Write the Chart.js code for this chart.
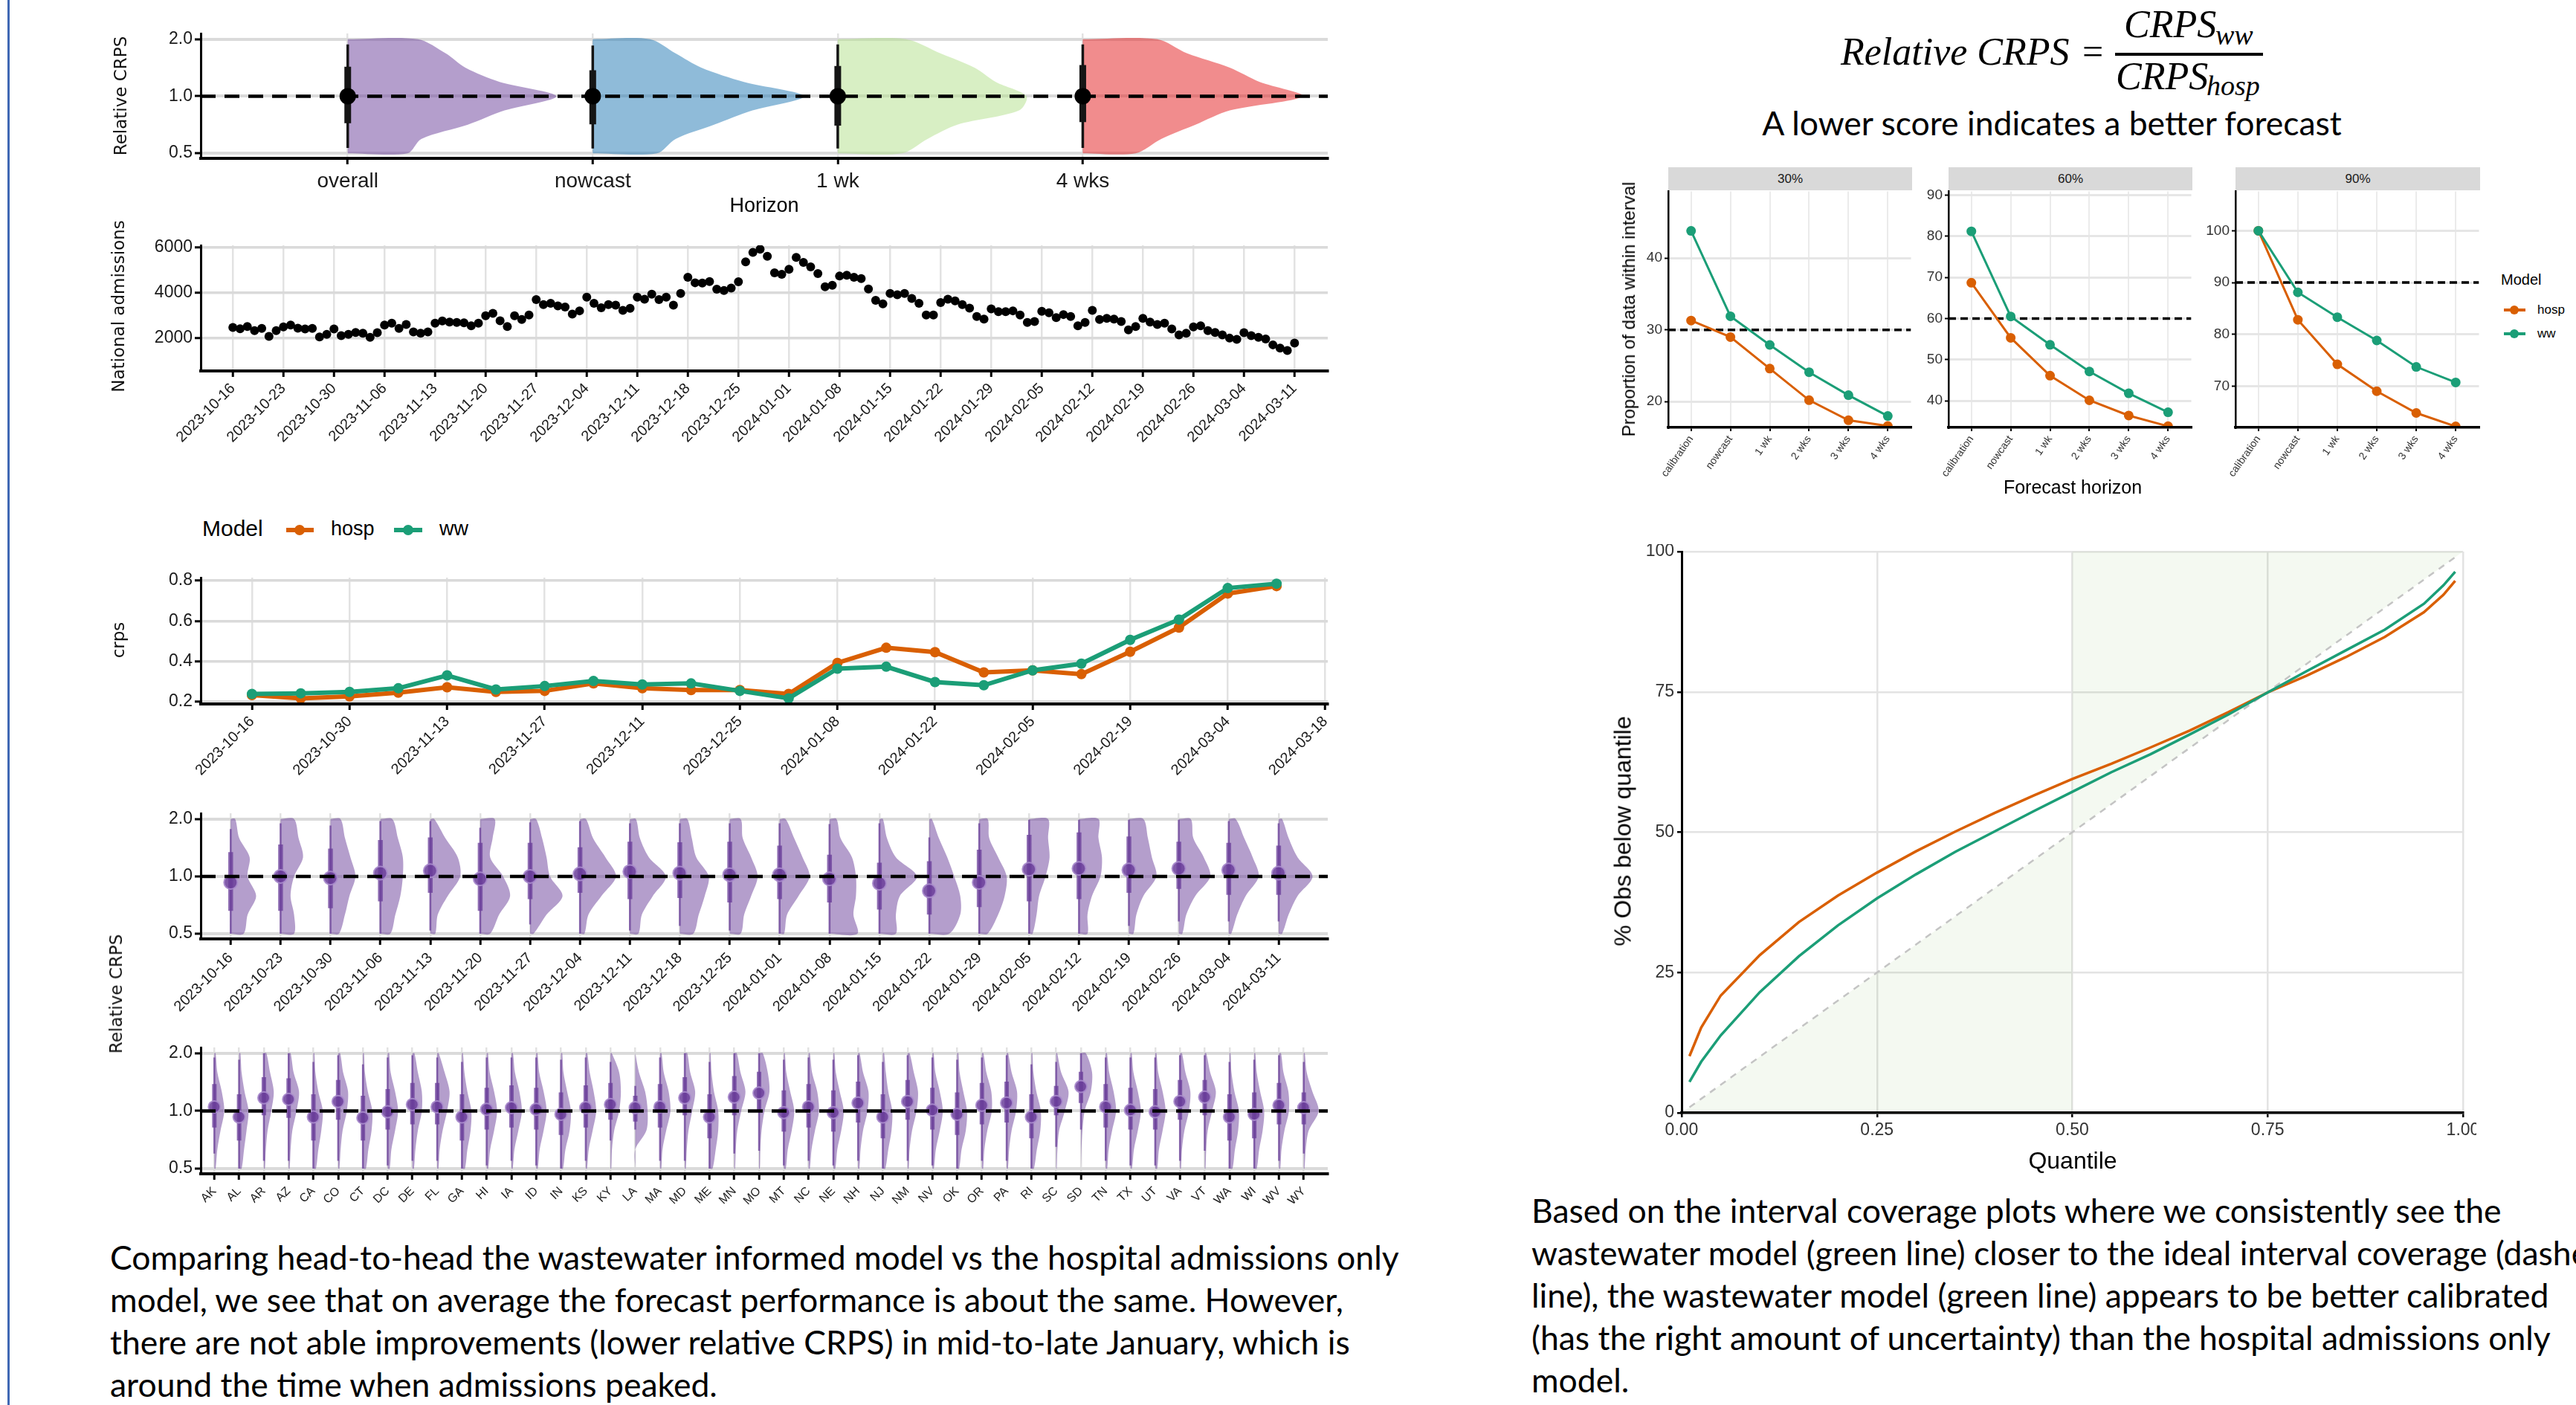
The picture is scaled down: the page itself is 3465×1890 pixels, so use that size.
<!DOCTYPE html>
<html><head><meta charset="utf-8">
<script src="https://cdn.jsdelivr.net/npm/chart.js@4.4.1/dist/chart.umd.min.js"></script>
<style>
html,body{margin:0;padding:0;background:#fff;}
body{width:3465px;height:1890px;position:relative;overflow:hidden;font-family:'Liberation Sans',Arial,sans-serif;}
canvas{position:absolute;}
.t{position:absolute;white-space:nowrap;color:#000;}
.rot{transform:translate(-50%,-50%) rotate(-90deg);}
.ctr{transform:translate(-50%,-50%);}
.ytl{font-family:'DejaVu Sans',sans-serif;font-size:23px;color:#111;}
.para{position:absolute;white-space:nowrap;font-family:Lato,'Open Sans',sans-serif;font-size:44.5px;line-height:57px;color:#000;}
.ser{position:absolute;white-space:nowrap;font-family:'Liberation Serif','DejaVu Serif',serif;font-style:italic;line-height:1;}
.strip{position:absolute;background:#d9d9d9;color:#1a1a1a;font-size:17px;text-align:center;line-height:31px;height:31px;}
.kl{position:absolute;height:6px;}
.kd{position:absolute;border-radius:50%;}
</style></head><body>
<div style="position:absolute;left:10px;top:0;width:3px;height:1890px;background:#4068b4;"></div>

<canvas id="cA"></canvas><canvas id="cB"></canvas><canvas id="cC"></canvas><canvas id="cD"></canvas><canvas id="cE"></canvas>
<canvas id="cF1"></canvas><canvas id="cF2"></canvas><canvas id="cF3"></canvas><canvas id="cG"></canvas>

<div class="t rot ytl" style="left:162px;top:129px;">Relative CRPS</div>
<div class="t ctr" style="left:1028px;top:276px;font-size:27px;">Horizon</div>
<div class="t rot ytl" style="left:159px;top:412px;">National admissions</div>
<div class="t rot ytl" style="left:159px;top:861px;">crps</div>
<div class="t rot ytl" style="left:156px;top:1337px;">Relative CRPS</div>

<div class="t" style="left:272px;top:694px;font-size:30px;">Model</div>
<div class="kl" style="left:385px;top:710px;width:37px;background:#D95F02;"></div>
<div class="kd" style="left:396px;top:706px;width:14px;height:14px;background:#D95F02;"></div>
<div class="t" style="left:445px;top:696px;font-size:27px;">hosp</div>
<div class="kl" style="left:530px;top:710px;width:38px;background:#1B9E77;"></div>
<div class="kd" style="left:542px;top:706px;width:14px;height:14px;background:#1B9E77;"></div>
<div class="t" style="left:591px;top:696px;font-size:27px;">ww</div>

<div class="para" style="left:148px;top:1662px;">Comparing head-to-head the wastewater informed model vs the hospital admissions only<br>model, we see that on average the forecast performance is about the same. However,<br>there are not able improvements (lower relative CRPS) in mid-to-late January, which is<br>around the time when admissions peaked.</div>
<div class="para" style="left:2060px;top:1599px;">Based on the interval coverage plots where we consistently see the<br>wastewater model (green line) closer to the ideal interval coverage (dashed<br>line), the wastewater model (green line) appears to be better calibrated<br>(has the right amount of uncertainty) than the hospital admissions only<br>model.</div>

<div class="ser" style="left:2476px;top:44px;font-size:52px;">Relative CRPS</div>
<div class="ser" style="left:2801px;top:44px;font-size:50px;font-style:normal;">=</div>
<div style="position:absolute;left:2845px;top:71px;width:199px;height:4px;background:#000;"></div>
<div class="ser" style="left:2857px;top:7px;font-size:52px;">CRPS</div>
<div class="ser" style="left:2980px;top:28px;font-size:38px;">ww</div>
<div class="ser" style="left:2846px;top:77px;font-size:52px;">CRPS</div>
<div class="ser" style="left:2968px;top:96px;font-size:38px;">hosp</div>
<div class="para ctr" style="left:2760px;top:164px;">A lower score indicates a better forecast</div>

<div class="strip" style="left:2244px;top:225px;width:328px;">30%</div>
<div class="strip" style="left:2621px;top:225px;width:328px;">60%</div>
<div class="strip" style="left:3007px;top:225px;width:329px;">90%</div>
<div class="t rot" style="left:2191px;top:416px;font-size:24px;">Proportion of data within interval</div>
<div class="t ctr" style="left:2788px;top:655px;font-size:25px;">Forecast horizon</div>
<div class="t" style="left:3364px;top:365px;font-size:20px;">Model</div>
<div class="kl" style="left:3368px;top:415px;width:29px;height:4px;background:#D95F02;"></div>
<div class="kd" style="left:3376px;top:411px;width:12px;height:12px;background:#D95F02;"></div>
<div class="t" style="left:3413px;top:407px;font-size:17px;">hosp</div>
<div class="kl" style="left:3368px;top:447px;width:29px;height:4px;background:#1B9E77;"></div>
<div class="kd" style="left:3376px;top:443px;width:12px;height:12px;background:#1B9E77;"></div>
<div class="t" style="left:3413px;top:439px;font-size:17px;">ww</div>

<div class="t rot" style="left:2183px;top:1118px;font-size:32px;">% Obs below quantile</div>
<div class="t ctr" style="left:2788px;top:1561px;font-size:32px;">Quantile</div>

<script>
// ---------- data ----------
const relTicks = [0.5, 1, 2];
const levels9 = [0.5, 0.595, 0.707, 0.841, 1.0, 1.189, 1.414, 1.682, 2.0];
const levels7 = [0.5, 0.63, 0.79, 1.0, 1.26, 1.59, 2.0];

const horizons = ['overall', 'nowcast', '1 wk', '4 wks'];
const horizonColors = ['rgba(106,61,154,0.5)', 'rgba(31,120,180,0.5)', 'rgba(178,223,138,0.5)', 'rgba(227,26,28,0.5)'];
const horizonMedian = [1.0, 1.0, 1.0, 1.0];
const horizonLo66 = [0.72, 0.71, 0.70, 0.73];
const horizonHi66 = [1.43, 1.37, 1.445, 1.46];
const horizonLo95 = [0.533, 0.53, 0.53, 0.533];
const horizonHi95 = [1.875, 1.85, 1.875, 1.875];
const horizonSlab = [
  [0.244, 0.30, 0.49, 0.64, 0.851, 0.62, 0.48, 0.40, 0.286],
  [0.262, 0.338, 0.495, 0.652, 0.862, 0.617, 0.443, 0.338, 0.234],
  [0.262, 0.366, 0.488, 0.74, 0.77, 0.645, 0.558, 0.419, 0.279],
  [0.216, 0.32, 0.46, 0.6, 0.897, 0.722, 0.6, 0.426, 0.304]
];

const weeks = ['2023-10-16','2023-10-23','2023-10-30','2023-11-06','2023-11-13','2023-11-20','2023-11-27','2023-12-04','2023-12-11','2023-12-18','2023-12-25','2024-01-01','2024-01-08','2024-01-15','2024-01-22','2024-01-29','2024-02-05','2024-02-12','2024-02-19','2024-02-26','2024-03-04','2024-03-11'];

// national daily admissions, 2023-10-16 .. 2024-03-11
const admissions = [2469,2414,2512,2327,2425,2076,2327,2490,2578,2436,2403,2425,2055,2164,2403,2109,2164,2251,2218,2033,2240,
  2578,2654,2425,2600,2273,2218,2273,2654,2752,2709,2687,2676,2545,2654,2981,3090,2763,2512,2981,2818,3014,
  3690,3472,3526,3417,3363,3057,3199,3799,3526,3330,3472,3450,3221,3308,3799,3711,3929,3690,3799,3450,3962,
  4671,4431,4420,4485,4147,4093,4202,4474,5346,5761,5902,5597,4867,4801,5019,5543,5325,5128,4834,4256,4322,
  4725,4758,4671,4616,4158,3657,3504,3962,3908,3962,3744,3526,3014,3014,3559,3711,3635,3472,3319,2948,2839,
  3286,3166,3166,3199,3014,2687,2730,3177,3112,2905,3036,2948,2545,2687,3221,2818,2872,2839,2730,2360,2512,
  2872,2709,2600,2654,2403,2142,2218,2490,2545,2327,2251,2142,2000,1946,2240,2109,2033,1967,1706,1564,1455,1782];
const admTicks = [2000, 4000, 6000];

const crpsTickLabels = ['2023-10-16','2023-10-30','2023-11-13','2023-11-27','2023-12-11','2023-12-25','2024-01-08','2024-01-22','2024-02-05','2024-02-19','2024-03-04','2024-03-18'];
const crpsHosp = [0.232,0.216,0.226,0.244,0.271,0.248,0.253,0.290,0.266,0.257,0.257,0.238,0.392,0.467,0.445,0.345,0.355,0.336,0.447,0.567,0.736,0.773];
const crpsWW   = [0.238,0.241,0.248,0.266,0.330,0.260,0.277,0.302,0.285,0.290,0.253,0.216,0.363,0.373,0.297,0.281,0.355,0.388,0.506,0.607,0.763,0.785];
const crpsTicks = [0.2, 0.4, 0.6, 0.8];

const weekMedian = [0.93,1.0,0.98,1.04,1.07,0.97,1.0,1.03,1.06,1.04,1.02,1.02,0.97,0.92,0.84,0.93,1.09,1.1,1.08,1.1,1.08,1.04];
const weekLo66 = [0.66,0.66,0.68,0.74,0.82,0.66,0.76,0.82,0.76,0.77,0.73,0.76,0.73,0.67,0.63,0.69,0.74,0.76,0.82,0.86,0.8,0.8];
const weekHi66 = [1.34,1.47,1.4,1.55,1.6,1.5,1.5,1.42,1.52,1.51,1.52,1.45,1.3,1.18,1.2,1.38,1.65,1.7,1.62,1.52,1.5,1.45];
const weekLo95 = [0.5,0.5,0.5,0.5,0.52,0.5,0.56,0.5,0.52,0.55,0.52,0.5,0.5,0.5,0.5,0.5,0.5,0.5,0.55,0.58,0.58,0.58];
const weekHi95 = [1.77,1.9,1.85,1.95,1.95,1.8,1.92,1.95,1.9,1.9,1.9,1.9,1.88,1.9,1.6,1.9,1.98,1.98,1.98,1.98,1.95,1.9];
const weekSlab = [
  [0.26,0.34,0.51,0.34,0.38,0.17,0.09],[0.27,0.27,0.2,0.27,0.45,0.36,0.27],[0.17,0.29,0.38,0.5,0.4,0.29,0.2],
  [0.2,0.3,0.4,0.45,0.45,0.35,0.24],[0.1,0.15,0.35,0.6,0.55,0.3,0.08],[0.2,0.38,0.6,0.46,0.2,0.25,0.29],
  [0.07,0.33,0.65,0.4,0.33,0.24,0.12],[0.09,0.17,0.43,0.72,0.51,0.26,0.12],[0.17,0.24,0.46,0.72,0.38,0.2,0.12],
  [0.27,0.38,0.5,0.58,0.33,0.24,0.15],[0.22,0.29,0.43,0.56,0.43,0.26,0.22],[0.09,0.15,0.38,0.6,0.46,0.29,0.12],
  [0.56,0.48,0.53,0.53,0.45,0.22,0.14],[0.33,0.33,0.41,0.75,0.33,0.15,0.07],[0.4,0.62,0.62,0.5,0.36,0.19,0.05],
  [0.17,0.38,0.51,0.55,0.38,0.2,0.17],[0.07,0.15,0.2,0.33,0.41,0.38,0.38],[0.17,0.17,0.26,0.43,0.46,0.39,0.39],
  [0.09,0.15,0.29,0.55,0.46,0.38,0.29],[0.07,0.15,0.33,0.63,0.5,0.29,0.24],[0.05,0.17,0.34,0.6,0.48,0.31,0.14],
  [0.07,0.2,0.38,0.68,0.38,0.2,0.07]
];

const states = ['AK','AL','AR','AZ','CA','CO','CT','DC','DE','FL','GA','HI','IA','ID','IN','KS','KY','LA','MA','MD','ME','MN','MO','MT','NC','NE','NH','NJ','NM','NV','OK','OR','PA','RI','SC','SD','TN','TX','UT','VA','VT','WA','WI','WV','WY'];
const stateMedian = [1.05,0.93,1.17,1.15,0.93,1.12,0.92,0.99,1.08,1.05,0.93,1.02,1.04,1.02,0.96,1.04,1.08,1.04,1.05,1.17,0.93,1.18,1.24,0.98,1.05,0.98,1.10,0.93,1.12,1.01,0.96,1.07,1.10,0.93,1.12,1.34,1.05,1.01,0.99,1.12,1.18,0.93,0.96,1.07,1.04];
const stateLo66 = [0.82,0.7,0.95,0.92,0.7,0.9,0.7,0.8,0.85,0.85,0.7,0.8,0.82,0.8,0.75,0.82,0.9,0.88,0.82,0.95,0.72,0.95,1.0,0.78,0.82,0.78,0.87,0.72,0.9,0.8,0.75,0.85,0.87,0.72,0.95,1.1,0.82,0.8,0.8,0.9,0.95,0.7,0.72,0.85,0.85];
const stateHi66 = [1.38,1.22,1.5,1.48,1.22,1.45,1.2,1.3,1.4,1.4,1.22,1.32,1.36,1.32,1.25,1.36,1.4,1.2,1.38,1.5,1.22,1.52,1.6,1.28,1.38,1.28,1.42,1.22,1.45,1.32,1.25,1.4,1.42,1.22,1.35,1.6,1.38,1.32,1.3,1.45,1.45,1.22,1.25,1.4,1.25];
const stateLo95 = [0.6,0.5,0.55,0.55,0.5,0.55,0.5,0.52,0.55,0.55,0.5,0.52,0.55,0.52,0.5,0.55,0.7,0.8,0.55,0.55,0.5,0.6,0.62,0.52,0.55,0.52,0.55,0.5,0.55,0.52,0.5,0.55,0.55,0.5,0.65,0.8,0.55,0.52,0.52,0.55,0.62,0.5,0.5,0.55,0.6];
const stateHi95 = [1.9,1.85,2.0,2.0,1.8,1.95,1.75,1.9,1.95,1.9,1.8,1.9,1.9,1.9,1.85,1.9,1.8,1.35,1.9,2.0,1.8,2.0,2.0,1.85,1.9,1.85,1.95,1.8,1.95,1.9,1.85,1.9,1.95,1.75,1.8,2.0,1.9,1.9,1.9,1.95,1.95,1.8,1.85,1.95,1.8];
const stateSlab = [
  [0.05,0.12,0.25,0.4,0.3,0.12,0.05],[0.1,0.2,0.3,0.38,0.22,0.1,0.05],[0.04,0.08,0.15,0.3,0.4,0.25,0.1],
  [0.04,0.08,0.15,0.32,0.42,0.2,0.08],[0.1,0.2,0.32,0.38,0.2,0.08,0.04],[0.05,0.1,0.18,0.35,0.4,0.2,0.08],
  [0.12,0.22,0.35,0.38,0.2,0.08,0.04],[0.08,0.15,0.3,0.42,0.3,0.12,0.06],[0.06,0.12,0.22,0.38,0.38,0.22,0.08],
  [0.05,0.1,0.22,0.4,0.5,0.3,0.06],[0.12,0.22,0.35,0.38,0.22,0.1,0.04],[0.06,0.14,0.3,0.42,0.3,0.12,0.05],
  [0.05,0.12,0.28,0.42,0.32,0.14,0.06],[0.06,0.14,0.3,0.42,0.3,0.12,0.05],[0.08,0.18,0.35,0.4,0.25,0.1,0.05],
  [0.05,0.12,0.28,0.42,0.32,0.16,0.06],[0.03,0.06,0.15,0.35,0.42,0.35,0.05],[0,0,0.45,0.5,0.4,0.15,0],
  [0.05,0.1,0.25,0.42,0.35,0.15,0.06],[0.04,0.08,0.15,0.3,0.42,0.22,0.1],[0.12,0.25,0.35,0.35,0.18,0.08,0.04],
  [0.03,0.06,0.12,0.28,0.45,0.25,0.1],[0.03,0.05,0.1,0.22,0.42,0.35,0.15],[0.08,0.16,0.32,0.42,0.26,0.1,0.04],
  [0.05,0.12,0.26,0.42,0.35,0.14,0.05],[0.08,0.16,0.32,0.42,0.26,0.1,0.04],[0.05,0.1,0.2,0.38,0.42,0.2,0.06],
  [0.1,0.22,0.35,0.38,0.22,0.12,0.05],[0.04,0.08,0.18,0.36,0.42,0.25,0.08],[0.06,0.14,0.3,0.42,0.3,0.12,0.05],
  [0.08,0.18,0.35,0.4,0.25,0.1,0.05],[0.05,0.1,0.22,0.4,0.38,0.18,0.06],[0.05,0.1,0.2,0.38,0.42,0.2,0.06],
  [0.1,0.22,0.36,0.38,0.2,0.08,0.04],[0.02,0.05,0.12,0.35,0.5,0.2,0.04],[0,0.02,0.06,0.15,0.4,0.45,0.2],
  [0.06,0.12,0.26,0.42,0.32,0.14,0.05],[0.06,0.14,0.3,0.42,0.3,0.12,0.05],[0.08,0.15,0.3,0.42,0.3,0.12,0.05],
  [0.04,0.08,0.18,0.36,0.42,0.22,0.08],[0.03,0.06,0.12,0.3,0.45,0.22,0.06],[0.12,0.22,0.35,0.38,0.2,0.08,0.04],
  [0.1,0.2,0.34,0.4,0.24,0.1,0.04],[0.05,0.1,0.22,0.4,0.38,0.18,0.08],[0.03,0.08,0.2,0.6,0.35,0.12,0.04]
];

const covHorizons = ['calibration', 'nowcast', '1 wk', '2 wks', '3 wks', '4 wks'];
const cov30Hosp = [31.3, 29.0, 24.6, 20.2, 17.4, 16.6];
const cov30WW   = [43.8, 31.9, 27.9, 24.1, 20.9, 18.0];
const cov60Hosp = [68.7, 55.3, 46.1, 40.1, 36.4, 33.8];
const cov60WW   = [81.2, 60.5, 53.6, 47.1, 41.8, 37.2];
const cov90Hosp = [100, 82.8, 74.2, 69.0, 64.8, 62.2];
const cov90WW   = [100, 88.1, 83.3, 78.8, 73.7, 70.7];

const quantiles = [0.01,0.025,0.05,0.1,0.15,0.2,0.25,0.3,0.35,0.4,0.45,0.5,0.55,0.6,0.65,0.7,0.75,0.8,0.85,0.9,0.95,0.975,0.99];
const qHosp = [10.1,15.2,20.9,28.1,34.0,38.7,42.8,46.6,50.1,53.4,56.5,59.5,62.2,65.1,68.1,71.4,74.9,77.9,81.2,84.8,89.2,92.3,94.8];
const qWW   = [5.5,9.1,13.8,21.5,27.9,33.4,38.2,42.5,46.5,50.1,53.7,57.2,60.7,63.9,67.4,71.0,74.9,78.7,82.4,86.1,90.7,94.0,96.4];
const shadeX = [0, 0.5, 0.5, 0.5, 1];
const shadeY = [0, 0, 50, 100, 100];

const HOSP = '#D95F02', WW = '#1B9E77';

// ---------- helpers ----------
Chart.defaults.font.family = "'Liberation Sans', Arial, sans-serif";
Chart.defaults.color = '#1a1a1a';

function mk(id, rect, m, datasets, scales) {
  const [l, t, r, b] = rect, [ml, mt, mr, mb] = m;
  const c = document.getElementById(id);
  const w = r - l + ml + mr, h = b - t + mt + mb;
  c.width = w; c.height = h;
  Object.assign(c.style, {left: (l - ml) + 'px', top: (t - mt) + 'px', width: w + 'px', height: h + 'px'});
  scales.x.afterFit = s => { s.height = mb; s.paddingLeft = 0; s.paddingRight = 0; };
  scales.y.afterFit = s => { s.width = ml; s.paddingTop = 0; s.paddingBottom = 0; };
  return new Chart(c, {
    type: 'line',
    data: {datasets},
    options: {
      responsive: false, animation: false, devicePixelRatio: 1,
      layout: {padding: {left: 0, top: mt, right: mr, bottom: 0}},
      plugins: {legend: {display: false}, tooltip: {enabled: false}},
      scales
    }
  });
}

function halfEyes(n, slabs, levels, med, lo66, hi66, lo95, hi95, cols, o) {
  const ds = [];
  for (let i = 0; i < n; i++) {
    const c = i + 1;
    const pts = [{x: c, y: levels[0]}];
    levels.forEach((v, k) => pts.push({x: c + slabs[i][k], y: v}));
    pts.push({x: c, y: levels[levels.length - 1]});
    ds.push({data: pts, fill: 'shape', backgroundColor: Array.isArray(cols) ? cols[i] : cols,
      borderColor: 'rgba(0,0,0,0)', borderWidth: 0, pointRadius: 0, tension: 0.3, order: 5});
  }
  const thin = [], thick = [], dots = [];
  for (let i = 0; i < n; i++) {
    thin.push({x: i + 1, y: lo95[i]}, {x: i + 1, y: hi95[i]}, {x: i + 1, y: null});
    thick.push({x: i + 1, y: lo66[i]}, {x: i + 1, y: hi66[i]}, {x: i + 1, y: null});
    dots.push({x: i + 1, y: med[i]});
  }
  ds.push({data: thin, borderColor: o.ic, borderWidth: o.thin, pointRadius: 0, spanGaps: false, order: 4});
  ds.push({data: thick, borderColor: o.ic, borderWidth: o.thick, pointRadius: 0, spanGaps: false, order: 3});
  ds.push({data: dots, showLine: false, pointRadius: o.r, pointBackgroundColor: o.dc,
    pointBorderColor: o.db, pointBorderWidth: o.dbw, order: 2});
  ds.push({data: [{x: o.xmin, y: 1}, {x: o.xmax, y: 1}], borderColor: '#000', borderWidth: 4.5,
    borderDash: [20, 12], pointRadius: 0, order: 1});
  return ds;
}

function gridX(lw, col) { return {color: col || '#e2e2e2', lineWidth: lw, tickColor: '#000', tickLength: 8, tickWidth: 3}; }
function gridY(lw, col) { return {color: col || '#dadada', lineWidth: lw, tickColor: '#000', tickLength: 8, tickWidth: 3}; }
const borderB = {display: true, color: '#000', width: 4, z: 1};
const borderL = {display: true, color: '#000', width: 3, z: 1};

function relY() {
  return {type: 'logarithmic', min: 0.47, max: 2.143,
    afterBuildTicks: s => { s.ticks = relTicks.map(v => ({value: v})); },
    ticks: {callback: v => Number(v).toFixed(1), font: {size: 23}, padding: 3},
    grid: gridY(4), border: borderL};
}
function catX(min, max, labels, size, rot) {
  return {type: 'linear', min, max,
    afterBuildTicks: s => { s.ticks = labels.map((l, i) => ({value: i + 1})); },
    ticks: {callback: (v, i) => labels[i], font: {size}, padding: 6, autoSkip: false,
      minRotation: rot, maxRotation: rot},
    grid: gridX(2.5), border: borderB};
}

// ---------- A: horizon half-eyes ----------
mk('cA', [270, 44, 1786, 213], [150, 10, 20, 60],
  halfEyes(4, horizonSlab, levels9, horizonMedian, horizonLo66, horizonHi66, horizonLo95, horizonHi95, horizonColors,
    {ic: '#151515', thin: 3.5, thick: 9, r: 11, dc: '#000', db: '#000', dbw: 0, xmin: 0.4, xmax: 5.0}),
  {x: catX(0.4, 5.0, horizons, 28, 0), y: relY()});

// ---------- B: national admissions ----------
mk('cB', [270, 330, 1786, 499], [150, 10, 20, 115],
  [{data: admissions.map((v, i) => ({x: i, y: v})), showLine: false, pointRadius: 6,
    pointBackgroundColor: '#000', pointBorderWidth: 0}],
  {x: {type: 'linear', min: -4.45, max: 151.6,
      afterBuildTicks: s => { s.ticks = weeks.map((d, i) => ({value: i * 7})); },
      ticks: {callback: (v, i) => weeks[i], font: {size: 20}, padding: 4, autoSkip: false, minRotation: 45, maxRotation: 45},
      grid: gridX(2.5), border: borderB},
   y: {type: 'linear', min: 560, max: 6075,
      afterBuildTicks: s => { s.ticks = admTicks.map(v => ({value: v})); },
      ticks: {callback: v => String(v), font: {size: 23}, padding: 3},
      grid: gridY(3.5), border: borderL}});

// ---------- C: crps by week ----------
mk('cC', [270, 777, 1786, 947], [150, 10, 20, 110],
  [{data: crpsWW.map((v, i) => ({x: i * 7, y: v})), borderColor: WW, backgroundColor: WW, borderWidth: 6,
     pointRadius: 7, pointBorderWidth: 0, order: 0},
   {data: crpsHosp.map((v, i) => ({x: i * 7, y: v})), borderColor: HOSP, backgroundColor: HOSP, borderWidth: 6,
     pointRadius: 7, pointBorderWidth: 0, order: 1}],
  {x: {type: 'linear', min: -7.35, max: 154.35,
      afterBuildTicks: s => { s.ticks = crpsTickLabels.map((d, i) => ({value: i * 14})); },
      ticks: {callback: (v, i) => crpsTickLabels[i], font: {size: 20}, padding: 4, autoSkip: false, minRotation: 45, maxRotation: 45},
      grid: gridX(2.5), border: borderB},
   y: {type: 'linear', min: 0.188, max: 0.815,
      afterBuildTicks: s => { s.ticks = crpsTicks.map(v => ({value: v})); },
      ticks: {callback: v => Number(v).toFixed(1), font: {size: 23}, padding: 3},
      grid: gridY(3.5), border: borderL}});

// ---------- D: relative crps by week ----------
const purpleSlab = 'rgba(106,61,154,0.5)';
mk('cD', [270, 1093, 1786, 1263], [150, 10, 20, 110],
  halfEyes(22, weekSlab, levels7, weekMedian, weekLo66, weekHi66, weekLo95, weekHi95, purpleSlab,
    {ic: 'rgba(106,61,154,0.75)', thin: 2.5, thick: 6.5, r: 9, dc: 'rgba(106,61,154,0.85)',
     db: 'rgba(170,140,205,0.9)', dbw: 2, xmin: 0.4, xmax: 22.985}),
  {x: catX(0.4, 22.985, weeks, 20, 45), y: relY()});

// ---------- E: relative crps by state ----------
mk('cE', [270, 1409, 1786, 1579], [150, 10, 20, 52],
  halfEyes(45, stateSlab, levels7, stateMedian, stateLo66, stateHi66, stateLo95, stateHi95, purpleSlab,
    {ic: 'rgba(106,61,154,0.75)', thin: 2.5, thick: 6, r: 8, dc: 'rgba(106,61,154,0.85)',
     db: 'rgba(170,140,205,0.9)', dbw: 2, xmin: 0.45, xmax: 45.97}),
  {x: catX(0.45, 45.97, states, 16, 45), y: relY()});

// ---------- F: interval coverage facets ----------
function covChart(id, l, r, hosp, ww, ymin, ymax, yt, ref) {
  mk(id, [l, 256, r, 575], [45, 5, 5, 75],
    [{data: ww.map((v, i) => ({x: i, y: v})), borderColor: WW, backgroundColor: WW, borderWidth: 3,
       pointRadius: 6.5, pointBorderWidth: 0, order: 0},
     {data: hosp.map((v, i) => ({x: i, y: v})), borderColor: HOSP, backgroundColor: HOSP, borderWidth: 3,
       pointRadius: 6.5, pointBorderWidth: 0, order: 1},
     {data: [{x: -0.58, y: ref}, {x: 5.59, y: ref}], borderColor: '#000', borderWidth: 3.5,
       borderDash: [10, 6], pointRadius: 0, order: 2}],
    {x: {type: 'linear', min: -0.58, max: 5.59,
        afterBuildTicks: s => { s.ticks = covHorizons.map((h, i) => ({value: i})); },
        ticks: {callback: (v, i) => covHorizons[i], font: {size: 14}, padding: 3, autoSkip: false,
          minRotation: 55, maxRotation: 55, color: '#333'},
        grid: {color: '#ebebeb', lineWidth: 2, tickColor: '#000', tickLength: 5, tickWidth: 2},
        border: {display: true, color: '#000', width: 3.5, z: 1}},
     y: {type: 'linear', min: ymin, max: ymax,
        afterBuildTicks: s => { s.ticks = yt.map(v => ({value: v})); },
        ticks: {callback: v => String(v), font: {size: 19}, padding: 3, color: '#333'},
        grid: {color: '#e6e6e6', lineWidth: 3, tickColor: '#000', tickLength: 5, tickWidth: 2},
        border: {display: true, color: '#000', width: 2.5, z: 1}}});
}
covChart('cF1', 2244, 2572, cov30Hosp, cov30WW, 16.4, 49.3, [20, 30, 40], 30);
covChart('cF2', 2621, 2949, cov60Hosp, cov60WW, 33.5, 90.9, [40, 50, 60, 70, 80, 90], 60);
covChart('cF3', 3007, 3336, cov90Hosp, cov90WW, 62.0, 107.6, [70, 80, 90, 100], 90);

// ---------- G: quantile coverage ----------
const qTicksX = [0, 0.25, 0.5, 0.75, 1];
const qTicksY = [0, 25, 50, 75, 100];
mk('cG', [2262, 742, 3313, 1497], [70, 10, 18, 48],
  [{data: shadeX.map((x, i) => ({x, y: shadeY[i]})), fill: 'shape', backgroundColor: 'rgba(70,150,20,0.06)',
     borderColor: 'rgba(0,0,0,0)', borderWidth: 0, pointRadius: 0, order: 9},
   {data: quantiles.map(q => ({x: q, y: q * 100})), borderColor: '#c4c4c4', borderWidth: 2.5,
     borderDash: [9, 8], pointRadius: 0, order: 3},
   {data: quantiles.map((q, i) => ({x: q, y: qHosp[i]})), borderColor: HOSP, borderWidth: 3.5, pointRadius: 0, order: 1},
   {data: quantiles.map((q, i) => ({x: q, y: qWW[i]})), borderColor: WW, borderWidth: 3.5, pointRadius: 0, order: 0}],
  {x: {type: 'linear', min: 0, max: 1,
      afterBuildTicks: s => { s.ticks = qTicksX.map(v => ({value: v})); },
      ticks: {callback: v => Number(v).toFixed(2), font: {size: 23}, padding: 4, maxRotation: 0, color: '#333'},
      grid: {color: '#e3e3e3', lineWidth: 2.5, tickColor: '#000', tickLength: 6, tickWidth: 2.5},
      border: {display: true, color: '#000', width: 3.5, z: 1}},
   y: {type: 'linear', min: 0, max: 100,
      afterBuildTicks: s => { s.ticks = qTicksY.map(v => ({value: v})); },
      ticks: {callback: v => String(v), font: {size: 23}, padding: 4, color: '#333'},
      grid: {color: '#e3e3e3', lineWidth: 2.5, tickColor: '#000', tickLength: 6, tickWidth: 2.5},
      border: {display: true, color: '#000', width: 3, z: 1}}});
</script>
</body></html>
